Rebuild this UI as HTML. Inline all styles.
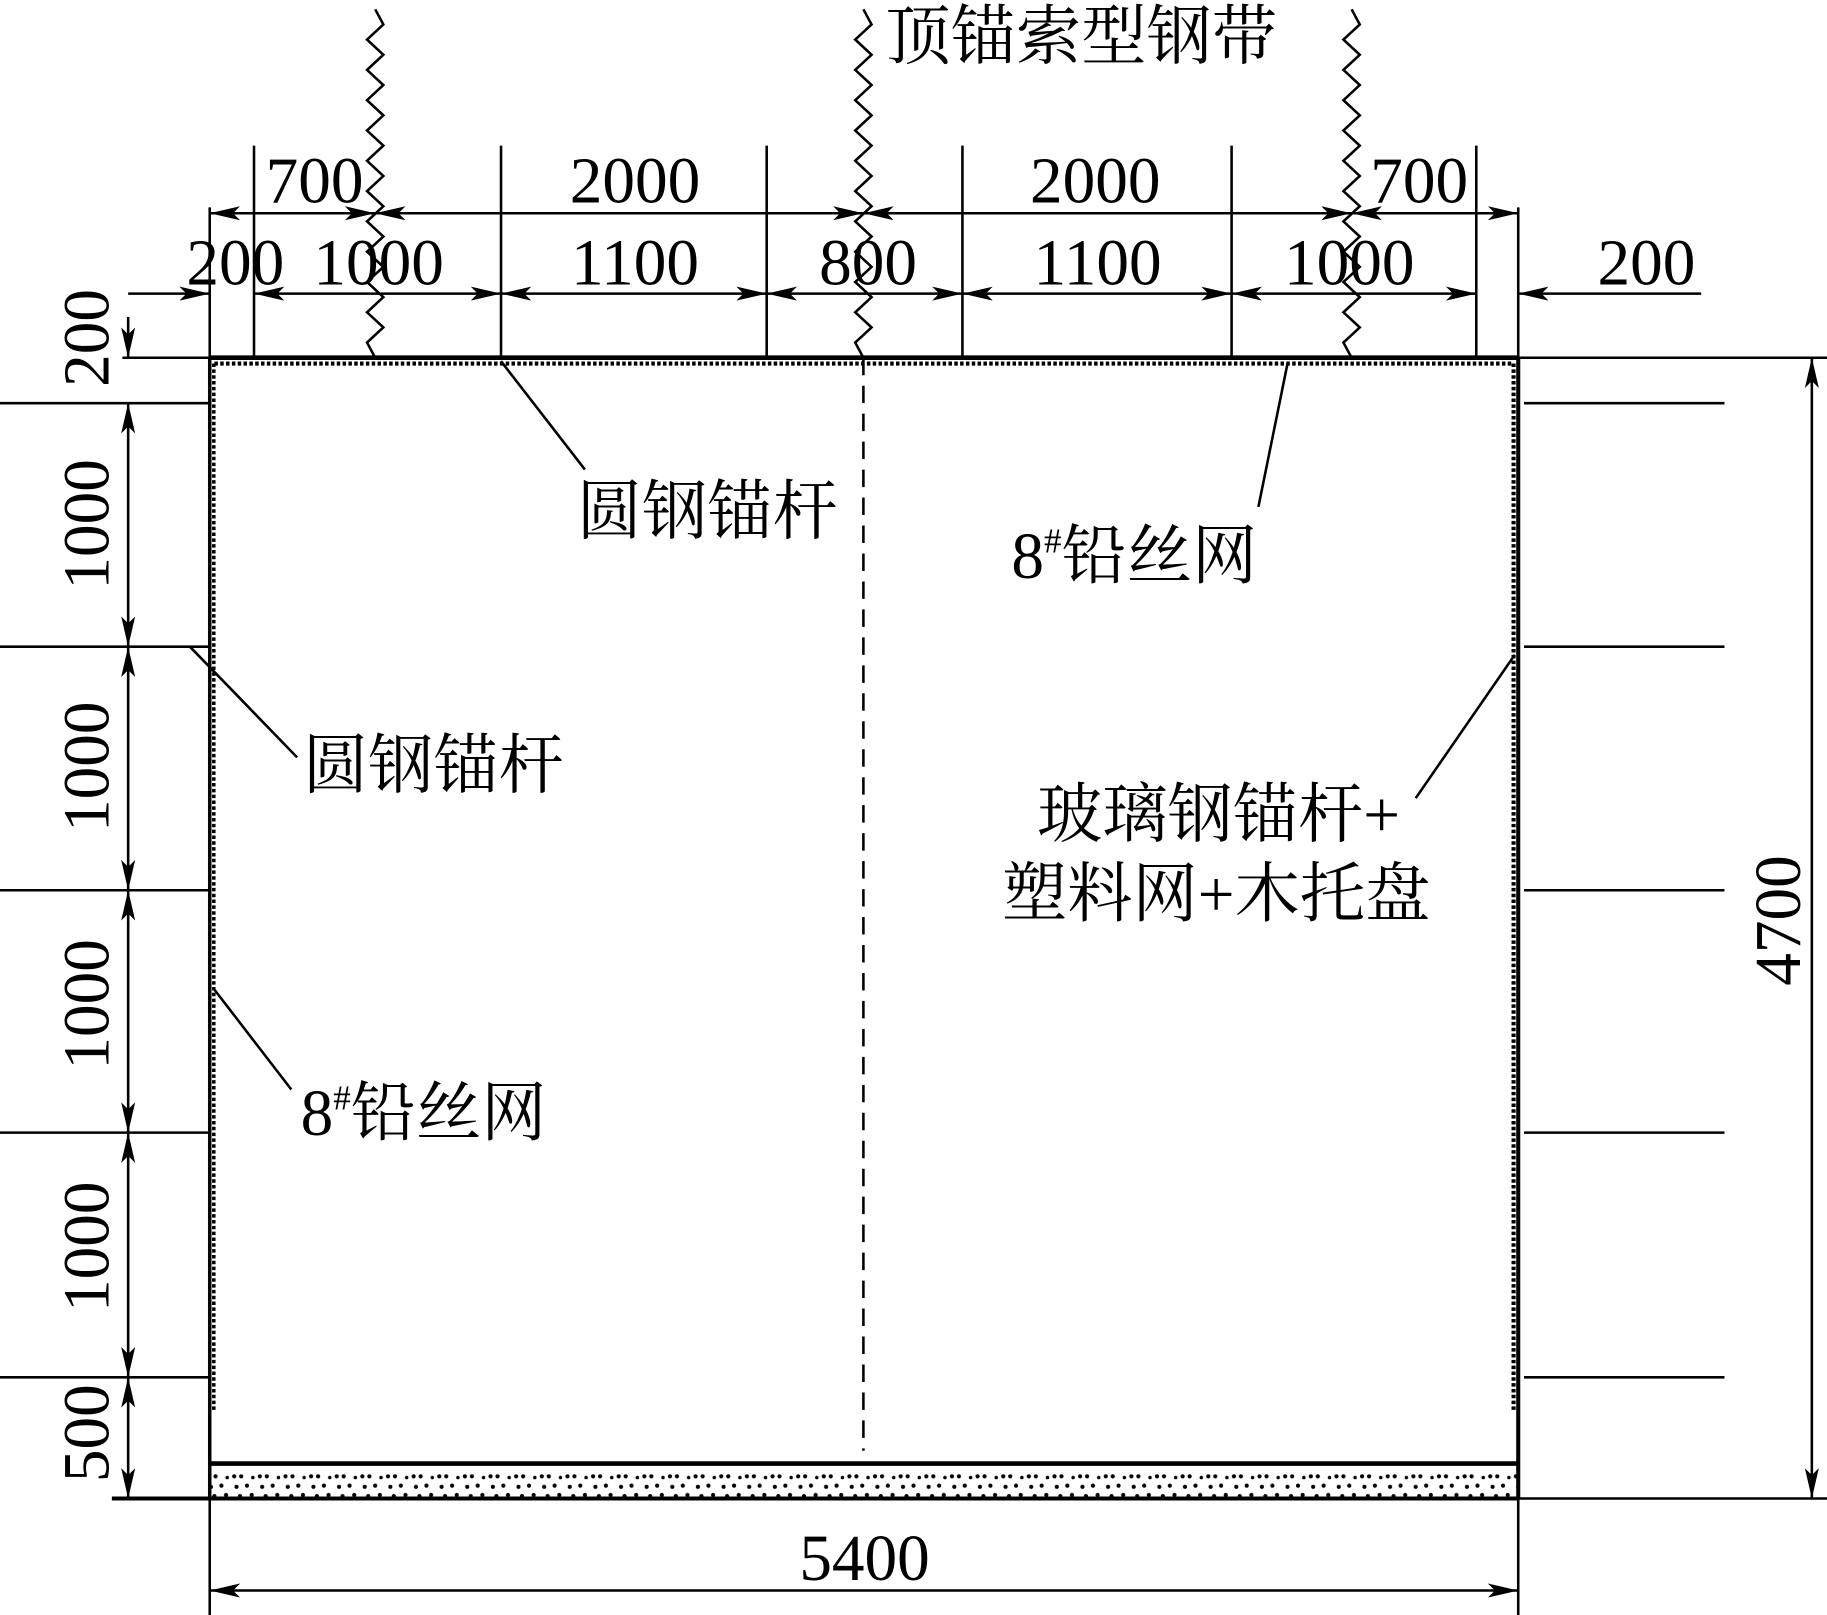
<!DOCTYPE html>
<html><head><meta charset="utf-8"><style>
html,body{margin:0;padding:0;background:#fff}
svg{display:block}
text{font-family:"Liberation Serif","Noto Serif CJK SC",serif;fill:#000}
.c{font-family:"Liberation Serif","Noto Serif CJK SC","Noto Sans CJK SC",serif}
</style></head><body>
<svg id="s" width="1827" height="1615" viewBox="0 0 1568 1386" preserveAspectRatio="none" xmlns="http://www.w3.org/2000/svg">
<defs>
<marker id="a" viewBox="0 0 26 12" refX="26" refY="6" markerWidth="26" markerHeight="12" markerUnits="userSpaceOnUse" orient="auto-start-reverse"><path d="M0,0 L26,6 L0,12 L6,6 Z" fill="#000"/></marker>
<pattern id="dots" width="22" height="30" patternUnits="userSpaceOnUse"><circle cx="3" cy="7" r="1.8"/><circle cx="9" cy="7" r="1.8"/><circle cx="14" cy="15" r="1.8"/><circle cx="5" cy="16" r="1.8"/><circle cx="18" cy="23" r="1.8"/><circle cx="8" cy="24" r="1.8"/><circle cx="19" cy="8" r="1.5"/></pattern>
</defs>
<g stroke="#000" fill="none" stroke-width="2.2">
<line x1="180" y1="307" x2="1303" y2="307" stroke-width="4"/>
<line x1="180" y1="307" x2="180" y2="1286" stroke-width="3"/>
<line x1="1303" y1="307" x2="1303" y2="1286" stroke-width="3.5"/>
<line x1="184" y1="312" x2="1299" y2="312" stroke-width="3.5" stroke-dasharray="3,2"/>
<line x1="183.5" y1="312" x2="183.5" y2="1210" stroke-width="3" stroke-dasharray="3,2"/>
<line x1="1299" y1="312" x2="1299" y2="1210" stroke-width="3.5" stroke-dasharray="3,2"/>
<rect x="180" y="1256" width="1123" height="30" fill="url(#dots)" stroke="none"/>
<line x1="180" y1="1256" x2="1303" y2="1256" stroke-width="4"/>
<line x1="96" y1="1286" x2="1303" y2="1286" stroke-width="3.5"/>
<line x1="741" y1="307" x2="741" y2="1245" stroke-dasharray="15,9"/>
<line x1="180" y1="178" x2="180" y2="307"/>
<line x1="218" y1="125" x2="218" y2="307"/>
<line x1="430" y1="125" x2="430" y2="307"/>
<line x1="658" y1="125" x2="658" y2="307"/>
<line x1="826" y1="125" x2="826" y2="307"/>
<line x1="1057" y1="125" x2="1057" y2="307"/>
<line x1="1267" y1="125" x2="1267" y2="307"/>
<line x1="1303" y1="178" x2="1303" y2="307"/>
<line x1="180" y1="183" x2="322" y2="183" marker-start="url(#a)" marker-end="url(#a)"/>
<line x1="322" y1="183" x2="741" y2="183" marker-start="url(#a)" marker-end="url(#a)"/>
<line x1="741" y1="183" x2="1160" y2="183" marker-start="url(#a)" marker-end="url(#a)"/>
<line x1="1160" y1="183" x2="1303" y2="183" marker-start="url(#a)" marker-end="url(#a)"/>
<line x1="110" y1="252" x2="180" y2="252" marker-end="url(#a)"/>
<line x1="218" y1="252" x2="430" y2="252" marker-start="url(#a)" marker-end="url(#a)"/>
<line x1="430" y1="252" x2="658" y2="252" marker-start="url(#a)" marker-end="url(#a)"/>
<line x1="658" y1="252" x2="826" y2="252" marker-start="url(#a)" marker-end="url(#a)"/>
<line x1="826" y1="252" x2="1057" y2="252" marker-start="url(#a)" marker-end="url(#a)"/>
<line x1="1057" y1="252" x2="1267" y2="252" marker-start="url(#a)" marker-end="url(#a)"/>
<line x1="1460" y1="252" x2="1303" y2="252" marker-end="url(#a)"/>
<line x1="105" y1="307" x2="180" y2="307"/>
<line x1="110" y1="272" x2="110" y2="307" marker-end="url(#a)"/>
<line x1="0" y1="346" x2="180" y2="346"/>
<line x1="0" y1="555" x2="180" y2="555"/>
<line x1="0" y1="764" x2="180" y2="764"/>
<line x1="0" y1="972" x2="180" y2="972"/>
<line x1="0" y1="1182" x2="180" y2="1182"/>
<line x1="110" y1="346" x2="110" y2="555" marker-start="url(#a)" marker-end="url(#a)"/>
<line x1="110" y1="555" x2="110" y2="764" marker-start="url(#a)" marker-end="url(#a)"/>
<line x1="110" y1="764" x2="110" y2="972" marker-start="url(#a)" marker-end="url(#a)"/>
<line x1="110" y1="972" x2="110" y2="1182" marker-start="url(#a)" marker-end="url(#a)"/>
<line x1="110" y1="1182" x2="110" y2="1286" marker-start="url(#a)" marker-end="url(#a)"/>
<line x1="1303" y1="307" x2="1568" y2="307"/>
<line x1="1303" y1="1286" x2="1568" y2="1286"/>
<line x1="1308" y1="346" x2="1480" y2="346"/>
<line x1="1308" y1="555" x2="1480" y2="555"/>
<line x1="1308" y1="764" x2="1480" y2="764"/>
<line x1="1308" y1="972" x2="1480" y2="972"/>
<line x1="1308" y1="1182" x2="1480" y2="1182"/>
<line x1="1555" y1="307" x2="1555" y2="1286" marker-start="url(#a)" marker-end="url(#a)"/>
<line x1="180" y1="1286" x2="180" y2="1386"/>
<line x1="1303" y1="1286" x2="1303" y2="1386"/>
<line x1="180" y1="1365" x2="1303" y2="1365" marker-start="url(#a)" marker-end="url(#a)"/>
<line x1="430" y1="310" x2="502" y2="403"/>
<line x1="1105" y1="312" x2="1080" y2="435"/>
<line x1="163" y1="555" x2="255" y2="650"/>
<line x1="183" y1="848" x2="250" y2="935"/>
<line x1="1300" y1="562" x2="1215" y2="685"/>
<g id="waves"></g>
</g>
<g font-size="56">
<text x="760" y="50" class="c" font-size="56">顶锚索型钢带</text>
<text x="270" y="174" text-anchor="middle">700</text>
<text x="545" y="174" text-anchor="middle">2000</text>
<text x="940" y="174" text-anchor="middle">2000</text>
<text x="1218" y="174" text-anchor="middle">700</text>
<text x="202" y="244" text-anchor="middle">200</text>
<text x="325" y="244" text-anchor="middle">1000</text>
<text x="545" y="244" text-anchor="middle">1100</text>
<text x="745" y="244" text-anchor="middle">800</text>
<text x="942" y="244" text-anchor="middle">1100</text>
<text x="1158" y="244" text-anchor="middle">1000</text>
<text x="1413" y="244" text-anchor="middle">200</text>
<text x="742" y="1356" text-anchor="middle">5400</text>
<g text-anchor="middle">
<text transform="translate(93,290) rotate(-90)">200</text>
<text transform="translate(93,450) rotate(-90)">1000</text>
<text transform="translate(93,658) rotate(-90)">1000</text>
<text transform="translate(93,862) rotate(-90)">1000</text>
<text transform="translate(93,1070) rotate(-90)">1000</text>
<text transform="translate(93,1230) rotate(-90)">500</text>
<text transform="translate(1545,790) rotate(-90)">4700</text>
</g>
<text x="495" y="458" class="c" font-size="56">圆钢锚杆</text>
<text x="868" y="496" class="c" font-size="56">8<tspan font-size="30" dy="-22">#</tspan><tspan dy="22">铅丝网</tspan></text>
<text x="260" y="676" class="c" font-size="56">圆钢锚杆</text>
<text x="258" y="974" class="c" font-size="56">8<tspan font-size="30" dy="-22">#</tspan><tspan dy="22">铅丝网</tspan></text>
<text x="890" y="718" class="c" font-size="56">玻璃钢锚杆+</text>
<text x="860" y="786" class="c" font-size="56">塑料网+木托盘</text>
</g>
</svg>
<script>
var g=document.getElementById('waves');
[322,741,1160].forEach(function(x){
 var d='M'+x+',8';var y=8,s=1;
 while(y<292){y+=13;d+=' L'+(x+s*7)+','+y;s=-s;}
 d+=' L'+x+',307';
 var p=document.createElementNS('http://www.w3.org/2000/svg','path');
 p.setAttribute('d',d);g.appendChild(p);
});
</script>
</body></html>
